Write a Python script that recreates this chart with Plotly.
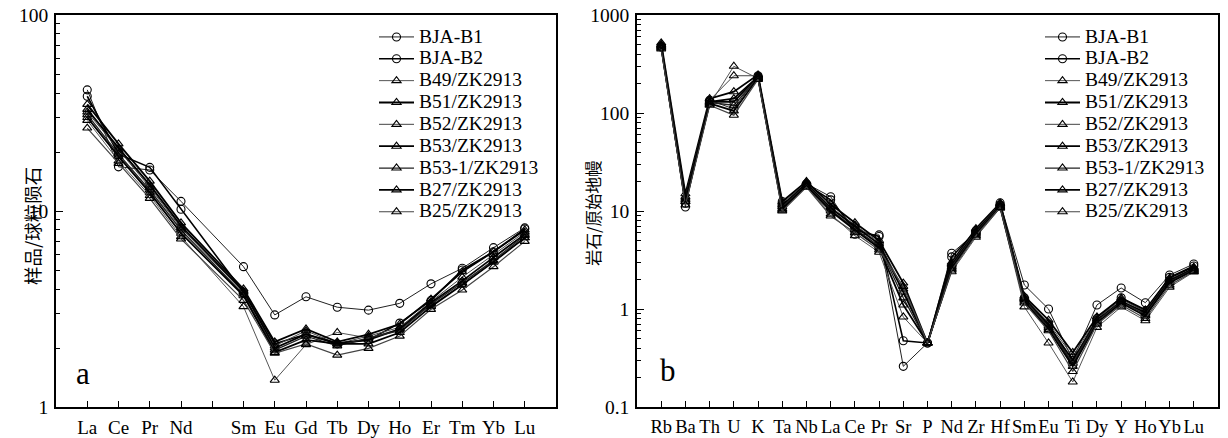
import plotly.graph_objects as go

# ---------------- data ----------------
ree_labels = ["La", "Ce", "Pr", "Nd", "", "Sm", "Eu", "Gd", "Tb", "Dy", "Ho", "Er", "Tm", "Yb", "Lu"]
spider_labels = ["Rb", "Ba", "Th", "U", "K", "Ta", "Nb", "La", "Ce", "Pr", "Sr", "P", "Nd", "Zr", "Hf",
                 "Sm", "Eu", "Ti", "Dy", "Y", "Ho", "Yb", "Lu"]

sample_names = ["BJA-B1", "BJA-B2", "B49/ZK2913", "B51/ZK2913", "B52/ZK2913", "B53/ZK2913",
                "B53-1/ZK2913", "B27/ZK2913", "B25/ZK2913"]

# chondrite-normalised REE (Pm not analysed -> None)
ree_bja_b1 = [41.5, 16.8, 16.2, 11.2, None, 5.2, 2.95, 3.65, 3.23, 3.12, 3.38, 4.25, 5.1, 6.5, 8.2]
ree_bja_b2 = [38.5, 19.5, 16.7, 10.2, None, 3.85, 2.1, 2.35, 2.1, 2.2, 2.68, 3.5, 5.0, 6.2, 8.1]
ree_b49 = [29.0, 18.0, 12.0, 7.4, None, 3.25, 1.37, 2.08, 2.4, 2.25, 2.5, 3.3, 4.2, 5.5, 7.3]
ree_b51 = [35.0, 22.0, 14.2, 8.7, None, 4.0, 2.15, 2.5, 2.15, 2.35, 2.65, 3.55, 4.9, 6.2, 8.0]
ree_b52 = [32.0, 20.5, 13.2, 8.2, None, 3.85, 2.05, 2.45, 2.1, 2.3, 2.55, 3.45, 4.6, 6.0, 7.8]
ree_b53 = [33.0, 21.0, 13.6, 8.4, None, 3.9, 2.0, 2.35, 2.12, 2.2, 2.5, 3.4, 4.4, 5.8, 7.6]
ree_b53_1 = [31.0, 19.5, 12.8, 8.0, None, 3.75, 1.95, 2.3, 2.05, 2.25, 2.45, 3.35, 4.3, 5.6, 7.5]
ree_b27 = [30.0, 19.0, 12.4, 7.7, None, 3.7, 1.9, 2.2, 2.1, 2.1, 2.4, 3.25, 4.2, 5.5, 7.3]
ree_b25 = [26.5, 17.5, 11.6, 7.2, None, 3.5, 1.88, 2.1, 1.84, 1.99, 2.3, 3.15, 3.95, 5.2, 7.0]

# primitive-mantle-normalised trace elements
sp_bja_b1 = [480, 11.0, 135, 110, 240, 12.5, 19.0, 14.0, 5.8, 5.7, 0.26, 0.45, 3.7, 6.0, 12.1, 1.76, 1.0, 0.30, 1.1, 1.64, 1.16, 2.22, 2.88]
sp_bja_b2 = [470, 12.0, 130, 130, 235, 11.0, 18.5, 13.0, 6.4, 5.5, 0.475, 0.45, 3.4, 6.3, 11.6, 1.3, 0.70, 0.27, 0.80, 1.30, 0.95, 2.10, 2.75]
sp_b49 = [460, 12.5, 122, 300, 225, 10.2, 17.8, 9.3, 5.6, 3.8, 0.83, 0.45, 2.4, 5.4, 10.7, 1.05, 0.45, 0.18, 0.65, 1.05, 0.76, 1.67, 2.39]
sp_b51 = [520, 15.0, 140, 165, 245, 12.5, 20.0, 11.7, 7.6, 5.0, 1.84, 0.45, 3.0, 6.6, 12.0, 1.35, 0.77, 0.36, 0.83, 1.29, 0.98, 2.07, 2.68]
sp_b52 = [500, 14.0, 135, 240, 240, 12.0, 19.5, 11.0, 7.2, 4.8, 1.6, 0.45, 2.9, 6.4, 11.8, 1.3, 0.72, 0.33, 0.80, 1.25, 0.95, 2.00, 2.62]
sp_b53 = [490, 13.5, 130, 140, 235, 11.5, 19.0, 10.7, 7.0, 4.6, 1.49, 0.45, 2.8, 6.2, 11.5, 1.28, 0.68, 0.30, 0.77, 1.20, 0.92, 1.95, 2.58]
sp_b53_1 = [480, 13.0, 128, 120, 230, 11.0, 18.5, 10.3, 6.6, 4.4, 1.3, 0.45, 2.7, 6.0, 11.3, 1.25, 0.65, 0.28, 0.75, 1.18, 0.88, 1.90, 2.52]
sp_b27 = [470, 12.5, 125, 105, 228, 10.5, 18.0, 10.0, 6.4, 4.2, 1.1, 0.45, 2.6, 5.8, 11.0, 1.2, 0.62, 0.26, 0.72, 1.15, 0.85, 1.85, 2.48]
sp_b25 = [450, 11.5, 120, 95, 220, 10.0, 17.5, 8.9, 6.0, 4.0, 1.7, 0.45, 2.5, 5.6, 10.9, 1.15, 0.60, 0.23, 0.70, 1.10, 0.80, 1.75, 2.42]

ree_values = [ree_bja_b1, ree_bja_b2, ree_b49, ree_b51, ree_b52, ree_b53, ree_b53_1, ree_b27, ree_b25]
spider_values = [sp_bja_b1, sp_bja_b2, sp_b49, sp_b51, sp_b52, sp_b53, sp_b53_1, sp_b27, sp_b25]

# ---------------- styles ----------------
symbols = ["circle-open", "circle-open"] + ["triangle-up-open"] * 7
line_colors = ["#222222", "#000000", "#555555", "#000000", "#444444", "#000000", "#222222", "#000000", "#444444"]
line_widths = [1.0, 1.6, 1.0, 1.8, 1.0, 1.8, 1.3, 1.8, 1.2]

SERIF = "Liberation Serif, Times New Roman, serif"
CJK = "Noto Sans CJK SC, sans-serif"

fig = go.Figure()

for i, name in enumerate(sample_names):
    label = "<span style='font-size:19.5px'>" + name + "</span>"
    common = dict(
        mode="lines+markers",
        name=label,
        line=dict(color=line_colors[i], width=line_widths[i]),
        marker=dict(symbol=symbols[i], size=8, color="black", line=dict(width=1.1, color="black")),
        connectgaps=True,
        hoverinfo="skip",
    )
    fig.add_trace(go.Scatter(x=list(range(len(ree_labels))), y=ree_values[i],
                             xaxis="x", yaxis="y", legend="legend", **common))
    fig.add_trace(go.Scatter(x=list(range(len(spider_labels))), y=spider_values[i],
                             xaxis="x2", yaxis="y2", legend="legend2", **common))

W, H = 1228, 438
def px_x(p):
    return p / W
def px_y(p):
    return 1 - p / H

axis_common = dict(showline=True, linecolor="black", linewidth=1.5, mirror=True,
                   showgrid=False, zeroline=False, ticks="inside", tickcolor="black",
                   automargin=False)

minor_left = [m * 10 ** e for e in range(0, 2) for m in range(2, 10)]
minor_right = [round(m * 10 ** e, 6) for e in range(-1, 3) for m in range(2, 10)]

fig.update_layout(
    width=W, height=H,
    margin=dict(l=0, r=0, t=0, b=0),
    paper_bgcolor="white", plot_bgcolor="white",
    showlegend=True,
    xaxis=dict(domain=[px_x(56), px_x(556)], range=[-1, 15], anchor="y",
               tickmode="array", tickvals=list(range(len(ree_labels))), ticktext=ree_labels,
               ticklen=6, tickwidth=1.2, ticklabelstandoff=2, tickangle=0,
               tickfont=dict(family=SERIF, size=19, color="black"), **axis_common),
    yaxis=dict(domain=[px_y(407), px_y(15)], type="log", range=[0, 2], anchor="x",
               tickmode="array", tickvals=[1, 10, 100], ticktext=["1", "10", "100"],
               ticklen=7, tickwidth=1.2, ticklabelstandoff=2,
               tickfont=dict(family=SERIF, size=19.5, color="black"),
               minor=dict(tickmode="array", tickvals=minor_left, ticks="inside", ticklen=4,
                          tickcolor="black", tickwidth=1),
               **axis_common),
    xaxis2=dict(domain=[px_x(637), px_x(1218)], range=[-1, 23], anchor="y2",
                tickmode="array", tickvals=list(range(len(spider_labels))), ticktext=spider_labels,
                ticklen=6, tickwidth=1.2, ticklabelstandoff=2, tickangle=0,
                tickfont=dict(family=SERIF, size=18.5, color="black"), **axis_common),
    yaxis2=dict(domain=[px_y(407), px_y(15)], type="log", range=[-1, 3], anchor="x2",
                tickmode="array", tickvals=[0.1, 1, 10, 100, 1000], ticktext=["0.1", "1", "10", "100", "1000"],
                ticklen=7, tickwidth=1.2, ticklabelstandoff=2,
                tickfont=dict(family=SERIF, size=19.5, color="black"),
                minor=dict(tickmode="array", tickvals=minor_right, ticks="inside", ticklen=4,
                           tickcolor="black", tickwidth=1),
                **axis_common),
    legend=dict(x=px_x(374), y=px_y(21), xanchor="left", yanchor="top",
                bgcolor="rgba(0,0,0,0)", borderwidth=0,
                font=dict(family=SERIF, size=14.5, color="black"),
                itemwidth=35, tracegroupgap=0),
    legend2=dict(x=px_x(1040), y=px_y(21), xanchor="left", yanchor="top",
                 bgcolor="rgba(0,0,0,0)", borderwidth=0,
                 font=dict(family=SERIF, size=14.5, color="black"),
                 itemwidth=35, tracegroupgap=0),
    annotations=[
        dict(text="样品/球粒陨石", x=px_x(17), y=px_y(226), xref="paper", yref="paper",
             textangle=-90, showarrow=False, font=dict(family=CJK, size=18.5, color="black")),
        dict(text="岩石/原始地幔", x=px_x(593), y=px_y(214), xref="paper", yref="paper",
             textangle=-90, showarrow=False, font=dict(family=CJK, size=16.5, color="black")),
        dict(text="a", x=px_x(74), y=px_y(393), xref="paper", yref="paper",
             showarrow=False, font=dict(family=SERIF, size=31, color="black")),
        dict(text="b", x=px_x(668), y=px_y(390), xref="paper", yref="paper",
             showarrow=False, font=dict(family=SERIF, size=31, color="black")),
    ],
)

fig.write_html("out.html",
               config={"displayModeBar": False},
               post_script="document.body.style.margin='0';document.body.style.overflow='hidden';")
